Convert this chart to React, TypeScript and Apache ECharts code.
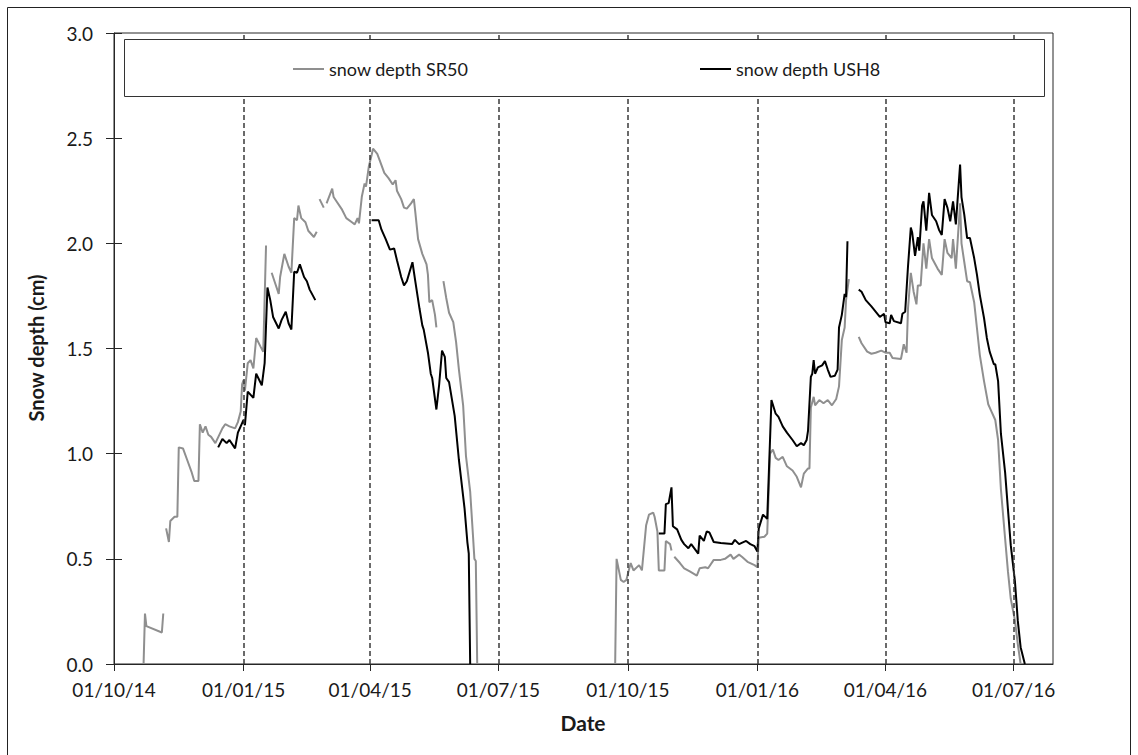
import React, { useEffect, useRef } from "react";
import * as echarts from "echarts";

// days since 01/10/14 and snow depth; null = gap in the record
const sr50Season1: ([number, number] | null)[] = [
  [21, 0], [22, 0.24], [23, 0.18], [34, 0.15], [35, 0.24], null,
  [37, 0.645], [39, 0.58], [40, 0.68], [43, 0.7], [45, 0.7], [46, 1.03], [49, 1.025], [52, 0.97], [55, 0.915],
  [57, 0.87], [60, 0.87], [61, 1.14], [63, 1.1], [65, 1.13], [67, 1.09], [69, 1.08], [72, 1.05], [77, 1.12],
  [79, 1.14], [82, 1.13], [86, 1.12], [88, 1.15], [90, 1.2], [91, 1.33], [92, 1.35], [93, 1.3], [95, 1.43],
  [97, 1.445], [99, 1.405], [101, 1.55], [104, 1.51], [106, 1.485], [108, 1.99], null,
  [112, 1.86], [114, 1.82], [117, 1.76], [118, 1.84], [121, 1.95], [124, 1.89], [126, 1.86], [128, 2.12],
  [130, 2.11], [131, 2.18], [133, 2.12], [136, 2.1], [138, 2.06], [142, 2.03], [144, 2.055], null,
  [146, 2.21], [149, 2.17], null,
  [151, 2.19], [155, 2.26], [156, 2.22], [158, 2.2], [162, 2.16], [165, 2.12], [169, 2.1], [171, 2.09],
  [173, 2.12], [174, 2.095], [176, 2.22], [178, 2.285], [179, 2.27], [181, 2.365], [183, 2.42], [184, 2.45],
  [187, 2.425], [189, 2.39], [192, 2.335], [195, 2.31], [198, 2.28], [200, 2.3], [201, 2.25], [204, 2.21],
  [206, 2.17], [208, 2.165], [211, 2.19], [213, 2.21], [214, 2.15], [216, 2.02], [219, 1.95], [222, 1.9],
  [223, 1.85], [224, 1.72], [226, 1.73], [228, 1.66], [229, 1.6], null,
  [234, 1.82], [236, 1.74], [238, 1.67], [241, 1.625], [243, 1.53], [245, 1.4], [248, 1.23], [250, 0.99],
  [253, 0.82], [255, 0.61], [256, 0.5], [257, 0.49], [258, 0],
];

const sr50Season2: ([number, number] | null)[] = [
  [356, 0], [357, 0.5], [360, 0.4], [362, 0.39], [364, 0.4], [367, 0.48], [369, 0.445], [373, 0.47], [375, 0.445],
  [378, 0.66], [380, 0.71], [383, 0.72], [384, 0.7], [386, 0.63], [387, 0.445], [391, 0.445], [392, 0.585],
  [395, 0.57], [396, 0.54], null,
  [398, 0.51], [402, 0.48], [405, 0.455], [409, 0.44], [414, 0.42], [416, 0.455], [420, 0.46], [422, 0.455],
  [426, 0.495], [431, 0.495], [434, 0.5], [438, 0.52], [440, 0.5], [444, 0.52], [446, 0.51], [450, 0.486],
  [455, 0.47], [457, 0.46], [458, 0.6], [462, 0.605], [464, 0.62], [466, 1.0], [468, 1.02], [470, 0.98],
  [472, 0.97], [475, 0.985], [478, 0.94], [482, 0.92], [485, 0.89], [488, 0.84], [490, 0.905], [493, 0.93],
  [494, 0.93], [495, 1.22], [497, 1.27], [498, 1.23], [501, 1.255], [504, 1.24], [507, 1.255], [510, 1.23],
  [513, 1.26], [515, 1.32], [517, 1.54], [519, 1.6], [520, 1.73], [522, 1.83], null,
  [529, 1.555], [531, 1.525], [535, 1.485], [538, 1.475], [541, 1.48], [545, 1.49], [548, 1.48], [551, 1.48],
  [553, 1.455], [559, 1.45], [561, 1.52], [563, 1.48], [564, 1.69], [566, 1.86], [568, 1.77], [570, 1.71],
  [571, 1.8], [573, 1.8], [575, 2.0], [577, 1.88], [579, 2.02], [581, 1.93], [585, 1.88], [588, 1.85],
  [590, 2.02], [592, 1.955], [595, 1.93], [596, 2.02], [598, 1.88], [601, 2.19], [602, 2.0], [604, 1.91],
  [606, 1.82], [608, 1.815], [611, 1.72], [613, 1.595], [615, 1.47], [618, 1.345], [621, 1.235], [623, 1.205],
  [626, 1.16], [628, 1.065], [630, 0.83], [633, 0.595], [635, 0.44], [637, 0.31], [640, 0.205], [642, 0.095],
  [644, 0],
];

const ush8Season1: ([number, number] | null)[] = [
  [74, 1.03], [77, 1.07], [80, 1.05], [82, 1.065], [86, 1.025], [88, 1.1], [91, 1.145], [92, 1.16], [93, 1.135],
  [95, 1.295], [99, 1.265], [101, 1.38], [105, 1.325], [107, 1.43], [109, 1.79], [111, 1.73], [113, 1.65],
  [117, 1.595], [119, 1.635], [122, 1.675], [124, 1.62], [126, 1.59], [128, 1.865], [130, 1.86], [132, 1.9],
  [135, 1.84], [137, 1.82], [139, 1.78], [143, 1.73], null,
  [183, 2.11], [188, 2.11], [190, 2.065], [193, 2.02], [196, 1.97], [199, 1.975], [201, 1.92], [204, 1.84],
  [206, 1.8], [208, 1.82], [212, 1.91], [214, 1.82], [217, 1.69], [219, 1.61], [220, 1.59], [223, 1.48],
  [225, 1.38], [226, 1.36], [229, 1.21], [231, 1.33], [233, 1.49], [235, 1.46], [236, 1.36], [238, 1.34],
  [242, 1.18], [245, 0.97], [249, 0.74], [251, 0.58], [252, 0.525], [253, 0],
];

const ush8Season2: ([number, number] | null)[] = [
  [387, 0.62], [391, 0.62], [392, 0.76], [394, 0.765], [396, 0.84], [397, 0.655], [400, 0.64], [403, 0.59],
  [405, 0.57], [408, 0.55], [410, 0.57], [415, 0.525], [416, 0.61], [419, 0.585], [421, 0.63], [423, 0.625],
  [426, 0.58], [431, 0.575], [439, 0.57], [441, 0.59], [444, 0.57], [449, 0.585], [452, 0.57], [455, 0.56],
  [457, 0.535], [458, 0.645], [461, 0.71], [464, 0.69], [467, 1.255], [470, 1.19], [472, 1.175], [475, 1.13],
  [478, 1.1], [482, 1.065], [485, 1.035], [488, 1.05], [490, 1.04], [492, 1.065], [493, 1.11], [495, 1.365],
  [496, 1.38], [497, 1.445], [498, 1.38], [500, 1.41], [503, 1.42], [505, 1.44], [507, 1.4], [509, 1.365],
  [512, 1.37], [514, 1.4], [515, 1.6], [517, 1.66], [519, 1.76], [520, 1.745], [521, 2.01], null,
  [529, 1.78], [531, 1.77], [534, 1.73], [538, 1.7], [541, 1.675], [544, 1.65], [547, 1.665], [548, 1.625],
  [551, 1.62], [552, 1.66], [554, 1.63], [559, 1.62], [560, 1.665], [562, 1.675], [564, 1.89], [566, 2.075],
  [567, 2.05], [569, 1.94], [571, 2.03], [572, 1.965], [574, 2.18], [575, 2.2], [577, 2.06], [579, 2.24],
  [581, 2.135], [584, 2.105], [586, 2.065], [588, 2.04], [590, 2.21], [592, 2.17], [594, 2.105], [596, 2.2],
  [598, 2.09], [601, 2.375], [602, 2.22], [604, 2.135], [606, 2.025], [608, 2.025], [611, 1.93], [613, 1.85],
  [615, 1.755], [618, 1.645], [620, 1.55], [622, 1.485], [625, 1.425], [626, 1.425], [628, 1.345], [630, 1.095],
  [633, 0.91], [635, 0.735], [637, 0.565], [640, 0.39], [642, 0.205], [644, 0.08], [647, 0],
];

const seriesNames = ["snow depth SR50", "snow depth USH8"];
const quarterDates: [number, number, number][] = [
  [2014, 10, 1], [2015, 1, 1], [2015, 4, 1], [2015, 7, 1], [2015, 10, 1], [2016, 1, 1], [2016, 4, 1], [2016, 7, 1],
];
const tickLabels = ["01/10/14", "01/01/15", "01/04/15", "01/07/15", "01/10/15", "01/01/16", "01/04/16", "01/07/16"];
const yMin = 0;
const yMax = 3;
const yStep = 0.5;
const axisEndDay = 667;

const DAY = 86400000;
const START = Date.UTC(2014, 9, 1);

function toSeries(...parts: ([number, number] | null)[][]) {
  const out: any[] = [];
  parts.forEach((part, pi) => {
    let prev = 0;
    if (pi > 0) out.push([START + (prev + 1) * DAY, "-"]);
    part.forEach((p) => {
      if (p === null) out.push([START + (prev + 0.5) * DAY, "-"]);
      else {
        prev = p[0];
        out.push([START + p[0] * DAY, p[1]]);
      }
    });
  });
  return out;
}

export default function App() {
  const ref = useRef<HTMLDivElement>(null);
  useEffect(() => {
    if (!ref.current) return;
    const chart = echarts.init(ref.current, undefined, { renderer: "svg" });
    const quarterTs = quarterDates.map(([y, m, d]) => Date.UTC(y, m - 1, d));
    const labelFor = (v: number) => {
      let best = 0;
      quarterTs.forEach((t, i) => {
        if (Math.abs(t - v) < Math.abs(quarterTs[best] - v)) best = i;
      });
      return tickLabels[best];
    };
    const font = "Lato, 'Open Sans', sans-serif";
    const axisColor = "#262626";
    const textColor = "#1a1a1a";
    const legendBase = {
      top: 60, padding: 0, itemWidth: 31, itemHeight: 2, itemGap: 2, z: 20, icon: "rect",
      textStyle: { fontFamily: font, fontSize: 18, color: textColor, padding: [0, 0, 0, 0] },
    };
    chart.setOption({
      animation: false,
      backgroundColor: "#fff",
      grid: { left: 114, right: 85, top: 33, bottom: 91, show: true, borderColor: axisColor, borderWidth: 1, backgroundColor: "transparent" },
      legend: [
        { ...legendBase, data: [seriesNames[0]], left: 293 },
        { ...legendBase, data: [seriesNames[1]], left: 700 },
      ],
      xAxis: {
        type: "value",
        min: START,
        max: START + axisEndDay * DAY,
        axisLine: { lineStyle: { color: axisColor, width: 1 } },
        axisTick: { show: true, length: 7, customValues: quarterTs, lineStyle: { color: axisColor } },
        axisLabel: {
          customValues: quarterTs,
          formatter: (v: number) => labelFor(v),
          fontFamily: font, fontSize: 19, color: textColor, margin: 16,
        },
        splitLine: { show: false },
      },
      yAxis: [
        {
          type: "value", min: yMin, max: yMax, interval: yStep,
          axisLine: { show: true, lineStyle: { color: axisColor } },
          axisTick: { show: true, length: 8, lineStyle: { color: axisColor } },
          axisLabel: { formatter: (v: number) => v.toFixed(1), fontFamily: font, fontSize: 19, color: textColor, margin: 21 },
          splitLine: { show: false },
        },
        {
          type: "value", min: yMin, max: yMax, interval: yStep, position: "left",
          axisLine: { show: false },
          axisTick: { show: true, inside: true, length: 8, lineStyle: { color: axisColor } },
          axisLabel: { show: false },
          splitLine: { show: false },
        },
      ],
      series: [
        {
          name: seriesNames[0], type: "line", data: toSeries(sr50Season1, sr50Season2), showSymbol: false, symbol: "none",
          lineStyle: { color: "#8f8f8f", width: 2 }, itemStyle: { color: "#8f8f8f" }, connectNulls: false,
          markLine: {
            silent: true, symbol: ["none", "none"], label: { show: false },
            lineStyle: { color: "#3a3a3a", width: 1.5, type: [5, 3] },
            data: quarterTs.slice(1).map((t) => ({ xAxis: t })),
          },
        },
        {
          name: seriesNames[1], type: "line", data: toSeries(ush8Season1, ush8Season2), showSymbol: false, symbol: "none",
          lineStyle: { color: "#000", width: 2 }, itemStyle: { color: "#000" }, connectNulls: false,
        },
      ],
      graphic: [
        { type: "rect", z: 10, shape: { x: 124.5, y: 39.5, width: 920, height: 57 }, style: { fill: "#fff", stroke: "#333", lineWidth: 1 } },
        { type: "rect", z: 1, shape: { x: 7.5, y: 7.5, width: 1123, height: 780 }, style: { fill: "none", stroke: "#222", lineWidth: 1 } },
        {
          type: "text", z: 10, x: 36, y: 348, rotation: Math.PI / 2,
          style: { text: "Snow depth (cm)", fontFamily: font, fontSize: 20, fontWeight: "bold", fill: textColor, align: "center", verticalAlign: "middle" },
        },
        {
          type: "text", z: 10, x: 583, y: 722,
          style: { text: "Date", fontFamily: font, fontSize: 21, fontWeight: "bold", fill: textColor, align: "center", verticalAlign: "middle" },
        },
      ],
    });
    return () => chart.dispose();
  }, []);
  return <div ref={ref} style={{ position: "fixed", left: 0, top: 0, width: 1138, height: 755 }} />;
}
